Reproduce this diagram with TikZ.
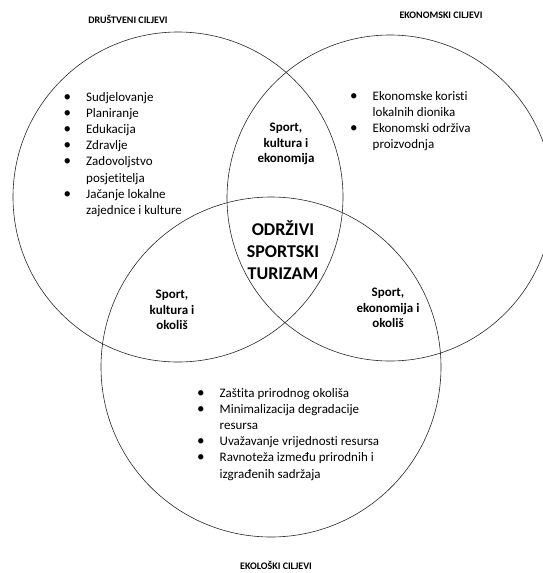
\documentclass[tikz,border=0pt]{standalone}
\usepackage{fontspec}
\setmainfont{Carlito}[Ligatures=NoCommon]
\usepackage{tikz}

\newcommand{\goaldot}{{\fontsize{15}{15}\selectfont\textbullet}}

\begin{document}
\begin{tikzpicture}[
    x=1pt, y=-1pt,
    ring/.style={circle, draw=black!85, line width=0.6pt, inner sep=0pt},
    goals/.style={anchor=base west, inner sep=0pt, font=\fontsize{13}{16.2}\selectfont},
    overlap/.style={align=center, inner sep=0pt, font=\fontsize{13}{15.6}\selectfont\bfseries},
    heading/.style={inner sep=0pt, font=\fontsize{10}{12}\selectfont\bfseries}
]
    \useasboundingbox (0,0) rectangle (542,573);

    % Circles
    \node[ring, minimum size=330pt] (social) at (178,197) {};
    \node[ring, minimum size=326pt] (economic) at (390,198) {};
    \node[ring, minimum size=340pt] (ecologic) at (271,367) {};

    % Headings
    \node[heading] (socialhead) at (128,19) {DRUŠTVENI CILJEVI};
    \node[heading] (economichead) at (441,15) {EKONOMSKI CILJEVI};
    \node[heading] (ecologichead) at (276,565) {EKOLOŠKI CILJEVI};

    % Goal lists
    \node[goals] (sociallist) at (63.5,101) {\begin{tabular}[t]{@{}p{22.5pt}@{}l@{}}
        \goaldot & Sudjelovanje\\
        \goaldot & Planiranje\\
        \goaldot & Edukacija\\
        \goaldot & Zdravlje\\
        \goaldot & Zadovoljstvo\\
                 & posjetitelja\\
        \goaldot & Jačanje lokalne\\
                 & zajednice i kulture
    \end{tabular}};
    \node[goals] (economiclist) at (350,100) {\begin{tabular}[t]{@{}p{22.5pt}@{}l@{}}
        \goaldot & Ekonomske koristi\\
                 & lokalnih dionika\\
        \goaldot & Ekonomski održiva\\
                 & proizvodnja
    \end{tabular}};
    \node[goals] (ecologiclist) at (197,397) {\begin{tabular}[t]{@{}p{22.5pt}@{}l@{}}
        \goaldot & Zaštita prirodnog okoliša\\
        \goaldot & Minimalizacija degradacije\\
                 & resursa\\
        \goaldot & Uvažavanje vrijednosti resursa\\
        \goaldot & Ravnoteža između prirodnih i\\
                 & izgrađenih sadržaja
    \end{tabular}};

    % Overlaps
    \node[overlap] (cultecon) at (286,144) {Sport,\\kultura i\\ekonomija};
    \node[overlap] (cultenv) at (172,310) {Sport,\\kultura i\\okoliš};
    \node[overlap] (econenv) at (388,308) {Sport,\\ekonomija i\\okoliš};
    \node[overlap, font=\fontsize{18}{22}\selectfont\bfseries] (core) at (283,250) {ODRŽIVI\\SPORTSKI\\TURIZAM};
\end{tikzpicture}
\end{document}
